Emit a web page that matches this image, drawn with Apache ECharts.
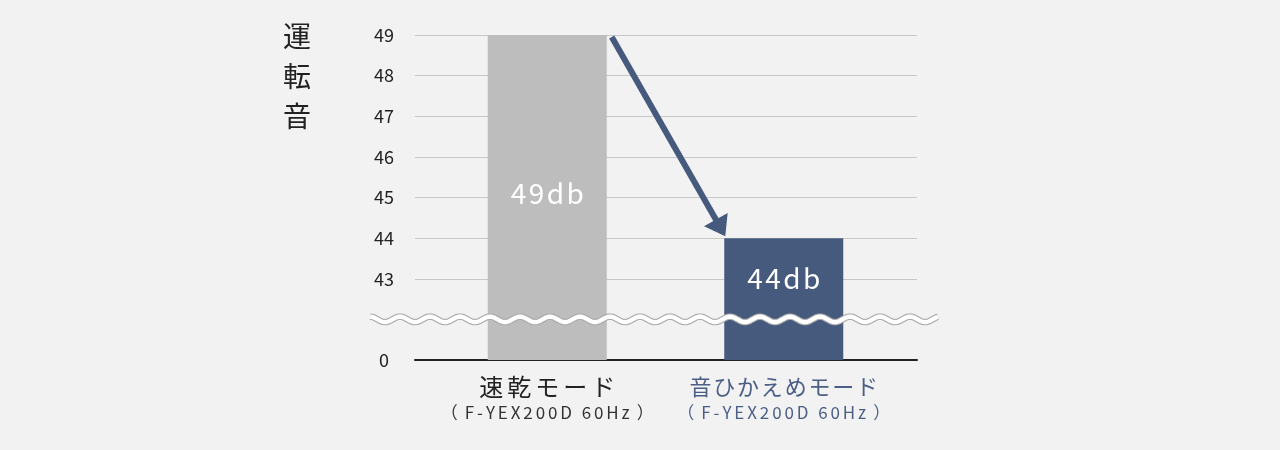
<!DOCTYPE html>
<html>
<head>
<meta charset="utf-8">
<script src="https://cdn.jsdelivr.net/npm/echarts@6/dist/echarts.min.js"></script>
<style>
  html, body { margin: 0; padding: 0; background: #f2f2f2; }
  #chart { width: 1280px; height: 450px; }
</style>
</head>
<body>
<div id="chart"></div>
<script>
// data
var categories = ['速乾モード', '音ひかえめモード'];
var models = ['（F-YEX200D 60Hz）', '（F-YEX200D 60Hz）'];
var noise = [49, 44];
var unit = 'db';
var tickLabels = ['0', '', '43', '44', '45', '46', '47', '48', '49'];
var axisMin = 41, axisMax = 49, breakAt = 42;

// styles
var font = '"Noto Sans CJK JP", "Noto Sans", sans-serif';
var barColors = ['#bdbdbd', '#465a7e'];
var nameColors = ['#222222', '#4a5e86'];
var nameSizes = [24, 22];
var nameGaps = [4, 1.8];
var labelShift = [-4, -21];
var barWidth = 119;

// letter spacing through rich tokens of fixed width
var mctx = document.createElement('canvas').getContext('2d');
function spaced(text, size, gap, key, rich, color, lineHeight) {
  mctx.font = size + 'px ' + font;
  return Array.from(text).map(function (ch, i) {
    var k = key + i;
    var w = mctx.measureText(ch).width + gap;
    if (ch === '（' || ch === '）') w = size + 11;
    rich[k] = {
      fontSize: size, fontFamily: font, color: color,
      width: w, align: 'center',
      lineHeight: lineHeight
    };
    return '{' + k + '|' + ch + '}';
  }).join('');
}

var catRich = {};
var catText = categories.map(function (c, i) {
  return spaced(c, nameSizes[i], nameGaps[i], 'n' + i + '_', catRich, nameColors[i], 26) + '\n' +
    spaced(models[i], 17, 2.9, 'm' + i + '_', catRich, i === 0 ? '#333333' : nameColors[i], 26);
});

var barData = noise.map(function (v, i) {
  var rich = {};
  var txt = spaced(v + unit, 28, 2.5, 'v' + i + '_', rich, '#ffffff', 34);
  return {
    value: v,
    itemStyle: { color: barColors[i] },
    label: { formatter: txt, rich: rich, offset: [0, labelShift[i]] }
  };
});

var gridColors = tickLabels.map(function (t, i) { return i < 2 ? 'rgba(0,0,0,0)' : '#c8c8c8'; });

var chart = echarts.init(document.getElementById('chart'));
chart.setOption({
  animation: false,
  backgroundColor: '#f2f2f2',
  title: {
    text: '運\n転\n音',
    left: 283, top: 16, padding: 0,
    textStyle: { fontFamily: font, fontSize: 28, lineHeight: 40, fontWeight: 'normal', color: '#222' }
  },
  grid: [
    { left: 415, right: 363, top: 35, bottom: 90 },
    { left: 429, right: 378, top: 35, bottom: 90 }
  ],
  xAxis: [
    {
      gridIndex: 0, type: 'value', min: 0, max: 1,
      axisLine: { show: true, onZero: false, lineStyle: { color: '#222', width: 2 } },
      axisTick: { show: false }, axisLabel: { show: false }, splitLine: { show: false }
    },
    {
      gridIndex: 1, type: 'category', data: categories,
      axisLine: { show: false }, axisTick: { show: false },
      axisLabel: {
        margin: 14, interval: 0, hideOverlap: false,
        formatter: function (v, i) { return catText[i]; },
        rich: catRich
      }
    }
  ],
  yAxis: [
    {
      gridIndex: 0, type: 'value', min: axisMin, max: axisMax, interval: 1,
      axisLine: { show: false }, axisTick: { show: false },
      axisLabel: {
        margin: 31, align: 'center', fontFamily: font, fontSize: 18, color: '#222',
        formatter: function (v) { return tickLabels[Math.round(v - axisMin)]; }
      },
      splitLine: { lineStyle: { color: gridColors, width: 1 } }
    },
    {
      gridIndex: 1, type: 'value', min: axisMin, max: axisMax, startValue: axisMin, show: false
    }
  ],
  series: [{
    type: 'bar', xAxisIndex: 1, yAxisIndex: 1,
    barWidth: barWidth, clip: true,
    label: { show: true, position: 'inside' },
    data: barData
  }]
});

// axis break wave and arrow
var yBreak = chart.convertToPixel({ yAxisIndex: 0 }, breakAt);
var xL = chart.convertToPixel({ xAxisIndex: 0 }, 0);
var xR = chart.convertToPixel({ xAxisIndex: 0 }, 1);
var wave = [];
for (var x = xL - 45; x <= xR + 21; x += 1) {
  wave.push([x, yBreak - 2.7 * Math.cos(2 * Math.PI * (x - xL + 45) / 30)]);
}

var p0 = chart.convertToPixel({ xAxisIndex: 1, yAxisIndex: 1 }, [0, noise[0]]);
var p1 = chart.convertToPixel({ xAxisIndex: 1, yAxisIndex: 1 }, [1, noise[1]]);
var sx = p0[0] + barWidth / 2 + 5, sy = p0[1] + 2;
var tx = p1[0] - barWidth / 2 + 1, ty = p1[1] - 2;
var len = Math.hypot(tx - sx, ty - sy);
var ux = (tx - sx) / len, uy = (ty - sy) / len;
var headLen = 19, headHalf = 13.6;
var bx = tx - ux * headLen, by = ty - uy * headLen;
var arrowColor = '#465a7e';

chart.setOption({
  graphic: [
    { type: 'polyline', z: 100, shape: { points: wave }, style: { fill: null, stroke: '#a9a9a9', lineWidth: 6.5 } },
    { type: 'polyline', z: 101, shape: { points: wave }, style: { fill: null, stroke: '#ffffff', lineWidth: 4.3 } },
    { type: 'line', z: 102, shape: { x1: sx, y1: sy, x2: bx + ux * 2, y2: by + uy * 2 }, style: { stroke: arrowColor, lineWidth: 6 } },
    {
      type: 'polygon', z: 102,
      shape: { points: [[tx, ty], [bx - uy * headHalf, by + ux * headHalf], [bx + uy * headHalf, by - ux * headHalf]] },
      style: { fill: arrowColor }
    }
  ]
});
</script>
</body>
</html>
